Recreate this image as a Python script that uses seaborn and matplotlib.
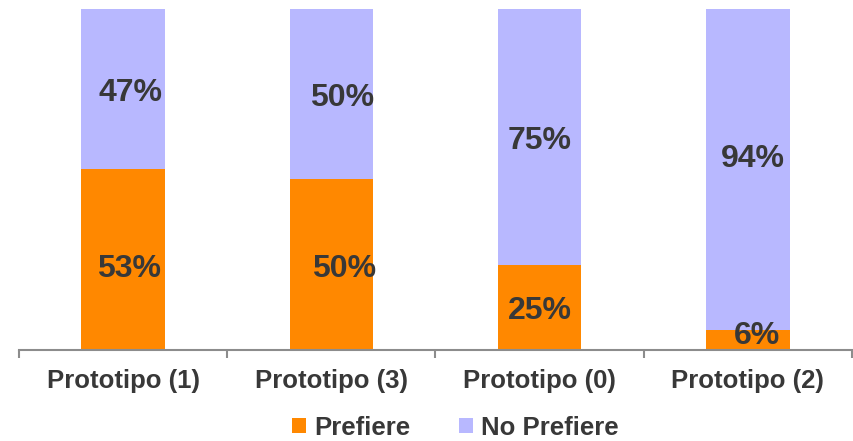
import matplotlib
matplotlib.use("Agg")
import matplotlib.pyplot as plt
from matplotlib.patches import Patch
import seaborn as sns
import pandas as pd

categories = ["Prototipo (1)", "Prototipo (3)", "Prototipo (0)", "Prototipo (2)"]
prefiere = [53, 50, 25, 6]
no_prefiere = [47, 50, 75, 94]
series_names = ["Prefiere", "No Prefiere"]

ORANGE = "#FF8800"
LAVENDER = "#B8B8FF"
TEXT = "#383838"
AXIS = "#8C8C8C"

sns.set_theme(style="white")
plt.rcParams["font.family"] = ["Liberation Sans", "DejaVu Sans"]

df = pd.DataFrame({
    "cat": categories,
    "pref": prefiere,
    "total": [p + n for p, n in zip(prefiere, no_prefiere)],
})

fig = plt.figure(figsize=(8.54, 4.41), dpi=100)
ax = fig.add_axes([19 / 854, 1 - 350 / 441, (852 - 19) / 854, (350 - 9) / 441])

# stacked: full-height bar in lavender, "Prefiere" share drawn on top from the baseline
sns.barplot(data=df, x="cat", y="total", order=categories, color=LAVENDER,
            width=0.4, saturation=1, ax=ax, linewidth=0)
sns.barplot(data=df, x="cat", y="pref", order=categories, color=ORANGE,
            width=0.4, saturation=1, ax=ax, linewidth=0)

ax.set_xlim(-0.5, len(categories) - 0.5)
ax.set_ylim(0, 100)
ax.set_xlabel("")
ax.set_ylabel("")
ax.set_yticks([])

# label nudges in pixels (dx right, dy down) for the lower / upper segment labels
low_nudge = [(6, 9), (13, 4), (0, 3.5), (9.5, -4)]
up_nudge = [(7.5, 3.5), (10.5, 3.5), (0, 4), (5, -10)]
px = 72 / fig.dpi
label_kw = dict(ha="center", va="center", fontsize=23, fontweight="bold",
                color=TEXT, textcoords="offset points")
for i, (p, n) in enumerate(zip(prefiere, no_prefiere)):
    dx, dy = low_nudge[i]
    ax.annotate(f"{p}%", (i, p / 2), xytext=(dx * px, -dy * px), **label_kw)
    dx, dy = up_nudge[i]
    ax.annotate(f"{n}%", (i, p + n / 2), xytext=(dx * px, -dy * px), **label_kw)

for side in ["left", "top", "right"]:
    ax.spines[side].set_visible(False)
ax.spines["bottom"].set_color(AXIS)
ax.spines["bottom"].set_linewidth(1.5)

ax.set_xticks(range(len(categories)))
ax.set_xticklabels(categories, fontsize=18.5, fontweight="bold", color=TEXT)
ax.set_xticks([i - 0.5 for i in range(len(categories) + 1)], minor=True)
ax.tick_params(axis="x", which="major", length=0, pad=14)
ax.tick_params(axis="x", which="minor", length=6, width=1.5, color=AXIS,
               direction="out", bottom=True)

handles = [Patch(facecolor=ORANGE, edgecolor="none", label=series_names[0]),
           Patch(facecolor=LAVENDER, edgecolor="none", label=series_names[1])]
leg = fig.legend(handles=handles, loc="center", bbox_to_anchor=(0.533, 0.03),
                 ncol=2, frameon=False, handlelength=0.55, handleheight=0.55,
                 handletextpad=0.3, columnspacing=1.9,
                 prop={"size": 18.5, "weight": "bold"})
for t in leg.get_texts():
    t.set_color(TEXT)

fig.savefig("out.png", dpi=100)
